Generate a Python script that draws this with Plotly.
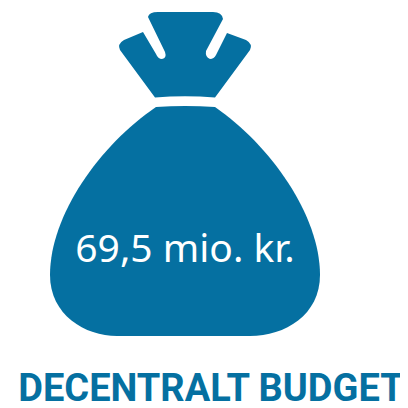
import plotly.graph_objects as go

AMOUNT_LABEL = "69,5 mio. kr."
TITLE_LABEL = "DECENTRALT BUDGET"
BLUE = "#0570a1"
KNOT_PATH = ("M 148 17 Q 149 12 158 12 L 213 12 Q 222 12 223 19 L 206 51 "
             "Q 205 57 210 59 Q 214 59 216 55 L 227 33 L 246 40 Q 253 44 250 50 "
             "L 215 97.5 Q 185 95 155 97.5 L 120 50 Q 117 44 124 40 L 143 32 "
             "L 156 54 Q 158 59 162 59 Q 167 58 165 52 Z")
BODY_PATH = ("M 156 107 Q 185 105 215 107 "
             "C 270 145 320 215 320 275 C 320 315 285 336 250 336 L 117 336 "
             "C 85 336 50 315 50 275 C 50 215 100 145 156 107 Z")

fig = go.Figure()
fig.add_trace(go.Scatter(x=[185], y=[252], mode="text", text=[AMOUNT_LABEL],
                         textposition="middle center", hoverinfo="skip",
                         textfont=dict(family="Noto Sans", size=39, color="white")))
fig.add_trace(go.Scatter(x=[211], y=[391], mode="text", text=[f"<b>{TITLE_LABEL}</b>"],
                         textposition="middle center", hoverinfo="skip",
                         textfont=dict(family="Roboto", size=38, color=BLUE)))
for p in (KNOT_PATH, BODY_PATH):
    fig.add_shape(type="path", path=p, fillcolor=BLUE, line_width=0, layer="below")
fig.update_layout(width=400, height=400, margin=dict(l=0, r=0, t=0, b=0),
                  paper_bgcolor="white", plot_bgcolor="white", showlegend=False,
                  xaxis=dict(range=[8, 408], visible=False),
                  yaxis=dict(range=[408, 8], visible=False))
fig.write_html("out.html", config=dict(displayModeBar=False))
